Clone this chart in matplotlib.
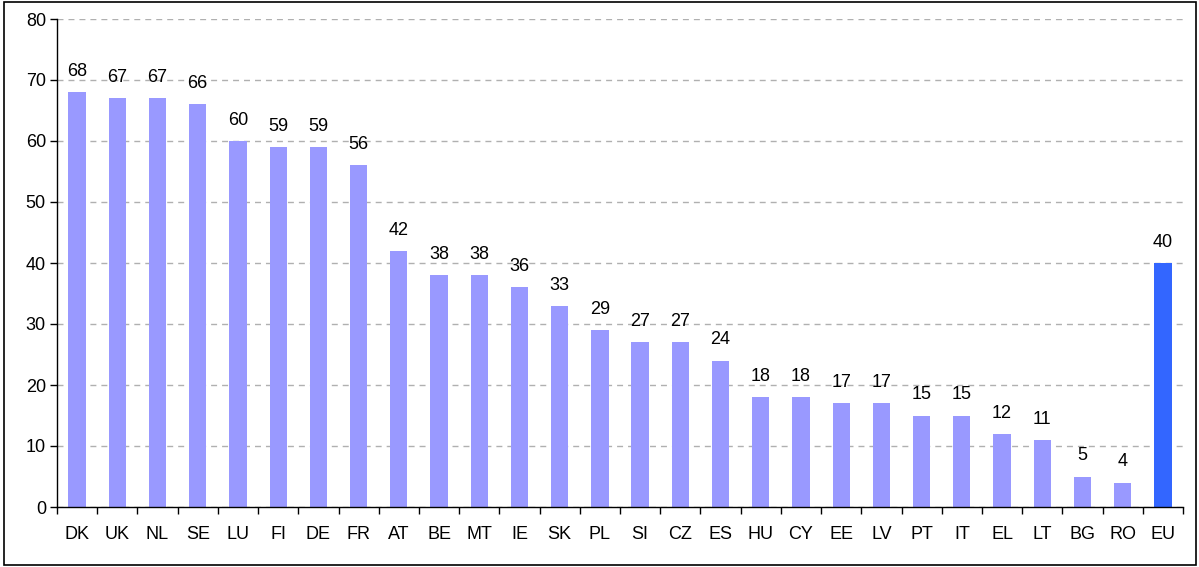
import matplotlib
matplotlib.use("Agg")
import matplotlib.pyplot as plt
from matplotlib.patches import Rectangle

countries = ["DK", "UK", "NL", "SE", "LU", "FI", "DE", "FR", "AT", "BE", "MT", "IE", "SK", "PL",
             "SI", "CZ", "ES", "HU", "CY", "EE", "LV", "PT", "IT", "EL", "LT", "BG", "RO", "EU"]
values = [68, 67, 67, 66, 60, 59, 59, 56, 42, 38, 38, 36, 33, 29,
          27, 27, 24, 18, 18, 17, 17, 15, 15, 12, 11, 5, 4, 40]
yticks = [0, 10, 20, 30, 40, 50, 60, 70, 80]

plt.rcParams['font.family'] = ['Liberation Sans', 'DejaVu Sans']

fig = plt.figure(figsize=(11.99, 5.67), dpi=100)
ax = fig.add_axes([57/1199, 1 - 507/567, (1183 - 57)/1199, (507 - 19)/567])

colors = ["#9999FF"] * (len(countries) - 1) + ["#3366FF"]
x = list(range(len(countries)))
ax.bar(x, values, width=0.43, color=colors, zorder=2)
for xi, v in zip(x, values):
    ax.text(xi, v + 2.0, str(v), ha='center', va='bottom', fontsize=13)

ax.set_xlim(-0.5, len(countries) - 0.5)
ax.set_ylim(0, 80)
ax.set_yticks(yticks)
ax.set_yticklabels([str(t) for t in yticks], fontsize=13)
ax.set_xticks(x)
ax.set_xticklabels(countries, fontsize=13)
ax.tick_params(axis='x', length=0, pad=14)
ax.set_xticks([i - 0.5 for i in range(len(countries) + 1)], minor=True)
ax.tick_params(axis='x', which='minor', length=5, direction='out', width=1)
ax.tick_params(axis='y', length=5, direction='out', width=1, pad=3)
ax.yaxis.grid(True, linestyle=(0, (4.3, 3.6)), color='#B0B0B0', linewidth=1.0, zorder=0)
ax.set_axisbelow(True)
for s in ['top', 'right']:
    ax.spines[s].set_visible(False)
ax.spines['left'].set_linewidth(1)
ax.spines['bottom'].set_linewidth(1)

fig.patches.append(Rectangle((4/1199, 2/567), (1196 - 4)/1199, (565 - 2)/567,
                             transform=fig.transFigure, fill=False, edgecolor='black', linewidth=1.2))

fig.savefig("out.png", dpi=100)
